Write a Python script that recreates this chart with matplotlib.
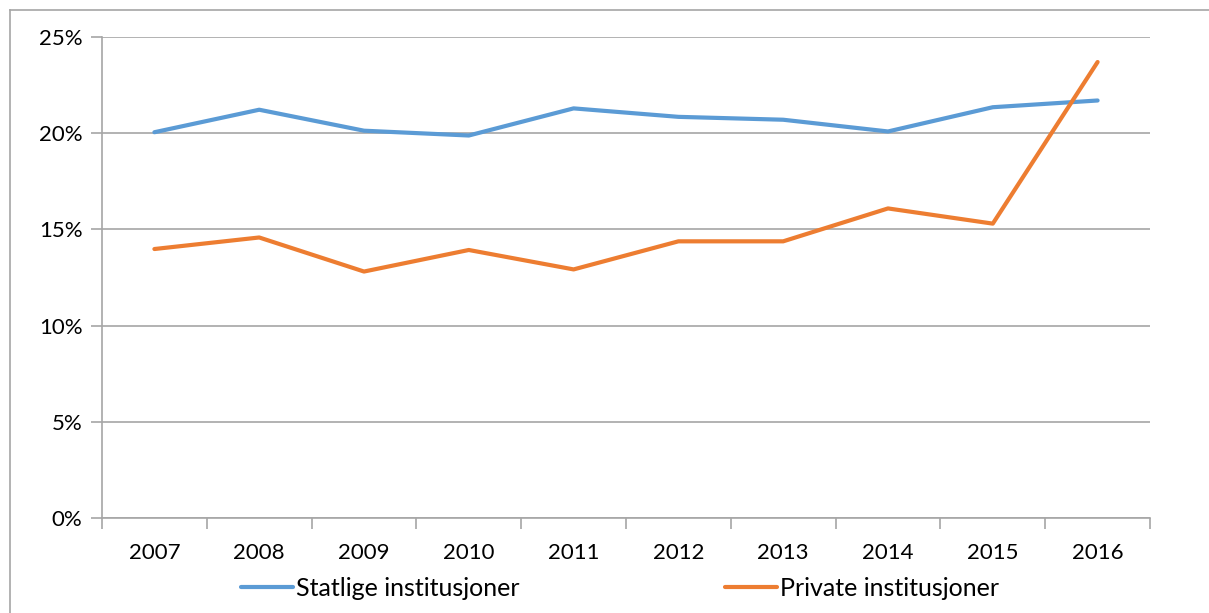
import matplotlib.pyplot as plt
from matplotlib.lines import Line2D
from matplotlib.ticker import FixedLocator, NullFormatter

plt.rcParams.update({'font.family': ['Lato', 'DejaVu Sans'],
                     'font.size': 16})

years = ['2007', '2008', '2009', '2010', '2011', '2012', '2013', '2014', '2015', '2016']
statlige = [20.05, 21.22, 20.13, 19.88, 21.29, 20.85, 20.70, 20.09, 21.35, 21.70]
private = [13.98, 14.58, 12.81, 13.93, 12.92, 14.38, 14.38, 16.09, 15.30, 23.70]
y_ticks = [0, 5, 10, 15, 20, 25]

fig = plt.figure(figsize=(12.09, 6.13), dpi=100)
ax = fig.add_axes([102/1209, 1 - 518/613, (1150 - 102)/1209, (518 - 37)/613])

# chart area frame, cut by the image edge: only top and left sides show
fx, fy = 10/1209, 1 - 10/613
fig.add_artist(Line2D([fx, 1], [fy, fy], transform=fig.transFigure,
                      color='#a6a6a6', linewidth=1.2))
fig.add_artist(Line2D([fx, fx], [0, fy], transform=fig.transFigure,
                      color='#a6a6a6', linewidth=1.2))

x = list(range(len(years)))
ax.plot(x, statlige, color='#5b9bd5', linewidth=3, solid_capstyle='round',
        label='Statlige institusjoner')
ax.plot(x, private, color='#ed7d31', linewidth=3, solid_capstyle='round',
        label='Private institusjoner')

ax.set_xlim(-0.5, len(years) - 0.5)
ax.set_ylim(0, 25)
ax.set_yticks(y_ticks)
ax.set_yticklabels([f'{v}%' for v in y_ticks])
ax.set_xticks(x)
ax.set_xticklabels(years)
ax.xaxis.set_minor_locator(FixedLocator([i - 0.5 for i in range(len(years) + 1)]))
ax.xaxis.set_minor_formatter(NullFormatter())
ax.tick_params(axis='x', which='major', length=0, pad=18)
ax.tick_params(axis='x', which='minor', length=8, color='#a6a6a6', width=1.2)
ax.tick_params(axis='y', length=8, color='#a6a6a6', width=1.2, pad=6)

ax.grid(axis='y', color='#a6a6a6', linewidth=1.2)
ax.set_axisbelow(True)
for s in ['top', 'right']:
    ax.spines[s].set_visible(False)
for s in ['left', 'bottom']:
    ax.spines[s].set_color('#a6a6a6')
    ax.spines[s].set_linewidth(1.2)

fig.legend(loc='center', bbox_to_anchor=(620/1209, 1 - 588/613), ncol=2,
           frameon=False, handlelength=2.1, handletextpad=0.12,
           columnspacing=8.2, fontsize=18)

fig.savefig('out.png', dpi=100)
